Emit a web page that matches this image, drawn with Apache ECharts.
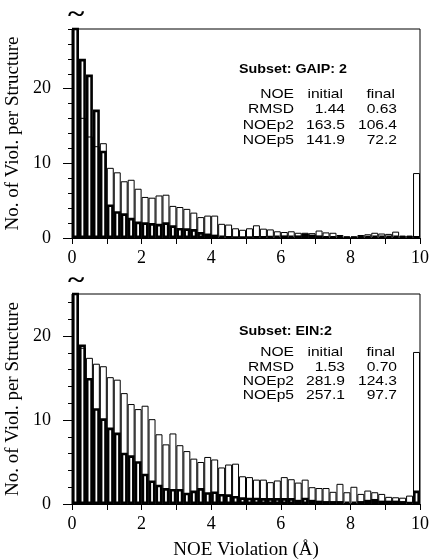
<!DOCTYPE html>
<html>
<head>
<meta charset="utf-8">
<script src="https://cdn.jsdelivr.net/npm/echarts@6.0.0/dist/echarts.min.js"></script>
</head>
<body style="margin:0">
<div id="container" style="width:430px;height:560px"></div>
<script>
// 0.2 A bins from 0 to 10
var bins = [];
for (var i = 0; i < 50; i++) bins.push((i * 0.2).toFixed(1));

// GAIP:2, initial (open bars) and final (thick bars); first bin is off scale
var gaipInitial = [40, 16.1, 13.6, 12.3, 12.7, 9.4, 8.8, 7.6, 7.8, 6.6,
    5.5, 5.4, 5.7, 5.8, 4.3, 4.15, 3.9, 3.4, 2.8, 3.0,
    3.0, 1.9, 1.8, 1.3, 1.1, 1.3, 1.7, 1.25, 1.15, 0.9,
    0.8, 0.9, 0.7, 0.7, 0.65, 1.0, 0.75, 0.7, 0.4, 0.2,
    0.2, 0.4, 0.5, 0.7, 0.6, 0.55, 0.85, 0.3, 0.3, 8.7];
var gaipFinal = [40, 24.0, 21.9, 17.2, 11.7, 4.5, 3.6, 3.3, 2.7, 2.2,
    2.1, 2.0, 1.9, 2.1, 1.7, 1.35, 1.3, 1.2, 0.8, 0.6,
    0.45, 0.3, 0.2, 0.15, 0.15, 0.15, 0.2, 0.2, 0.25, 0.3,
    0.35, 0.3, 0.35, 0.6, 0.45, 0.35, 0.2, 0.2, 0.2, 0.15,
    0.15, 0.2, 0.25, 0.3, 0.3, 0.3, 0.3, 0.25, 0.25, 0.2];

// EIN:2
var einInitial = [40, 18.6, 17.4, 16.7, 16.4, 15.1, 14.8, 13.2, 11.9, 11.3,
    11.7, 10.1, 8.3, 7.1, 8.4, 7.0, 6.3, 5.4, 5.0, 5.6,
    5.3, 4.35, 4.7, 4.8, 3.3, 3.2, 2.9, 2.9, 2.6, 2.8,
    3.2, 2.95, 2.55, 2.9, 2.0, 1.9, 1.9, 1.45, 2.4, 1.4,
    2.05, 1.2, 1.6, 1.4, 1.2, 0.85, 0.8, 0.75, 1.0, 18.1];
var einFinal = [40, 19.0, 15.0, 11.4, 10.2, 9.1, 8.5, 6.1, 5.8, 5.1,
    3.6, 2.8, 2.3, 1.9, 1.8, 1.8, 1.35, 1.6, 1.9, 1.4,
    1.5, 1.2, 1.15, 0.95, 0.8, 0.75, 0.75, 0.7, 0.7, 0.7,
    0.7, 0.7, 0.5, 0.75, 0.5, 0.4, 0.35, 0.35, 0.35, 0.3,
    0.3, 0.35, 0.5, 0.6, 0.4, 0.4, 0.4, 0.35, 0.2, 1.6];

var gaipTable = [['NOE', 'initial', 'final'], ['RMSD', '1.44', '0.63'],
    ['NOEp2', '163.5', '106.4'], ['NOEp5', '141.9', '72.2']];
var einTable = [['NOE', 'initial', 'final'], ['RMSD', '1.53', '0.70'],
    ['NOEp2', '281.9', '124.3'], ['NOEp5', '257.1', '97.7']];

var yTicksTop = [0, 2, 4, 6, 8, 10, 12, 14, 16, 18, 20, 22, 24, 26, 28];
var yTicksBottom = [0, 2, 4, 6, 8, 10, 12, 14, 16, 18, 20, 22, 24];
var yLabels = [0, 10, 20];

var serif = 'Liberation Serif';
var sans = 'Liberation Sans';

var grids = [
    { left: 72, right: 10, top: 29, height: 209 },
    { left: 72, right: 10, top: 294, height: 210 }
];

var xAxes = [], yAxes = [], series = [], graphic = [];

function addPanel(g, ymax, minorTicks, initial, final, last) {
    xAxes.push({
        gridIndex: g, type: 'category', data: bins, position: 'top', show: false
    });
    xAxes.push({
        gridIndex: g, type: 'value', min: 0, max: 10, interval: 1, position: 'bottom',
        axisLine: { lineStyle: { color: '#000', width: 1 } },
        axisTick: { length: 6, lineStyle: { color: '#000' } },
        axisLabel: {
            margin: 11, color: '#000', fontFamily: serif, fontSize: 18,
            formatter: function (v) { return v % 2 === 0 ? String(v) : ''; }
        },
        splitLine: { show: false },
        name: last ? 'NOE Violation (Å)' : '',
        nameLocation: 'middle', nameGap: 37,
        nameTextStyle: { color: '#000', fontFamily: serif, fontSize: 19 }
    });
    yAxes.push({
        gridIndex: g, type: 'value', min: 0, max: ymax, position: 'left',
        axisLine: { show: true, lineStyle: { color: '#000' } },
        axisTick: { show: true, length: 9, customValues: yLabels, lineStyle: { color: '#000' } },
        axisLabel: { customValues: yLabels, margin: 21, color: '#000', fontFamily: serif, fontSize: 18 },
        splitLine: { show: false },
        name: 'No. of Viol. per Structure', nameLocation: 'middle', nameGap: 43,
        nameTextStyle: { color: '#000', fontFamily: serif, fontSize: 19 }
    });
    yAxes.push({
        gridIndex: g, type: 'value', min: 0, max: ymax, position: 'left',
        axisLine: { show: false },
        axisTick: { show: true, length: 4, customValues: minorTicks, lineStyle: { color: '#000' } },
        axisLabel: { show: false },
        splitLine: { show: false }
    });
    series.push({
        type: 'bar', xAxisIndex: g * 2, yAxisIndex: g * 2, data: initial,
        barCategoryGap: '0%', barGap: '-100%', silent: true,
        itemStyle: { color: '#fff', borderColor: '#000', borderWidth: 1 }
    });
    series.push({
        type: 'bar', xAxisIndex: g * 2, yAxisIndex: g * 2, data: final,
        barCategoryGap: '0%', barGap: '-100%', silent: true,
        itemStyle: { color: 'rgba(0,0,0,0)', borderColor: '#000', borderWidth: 2.6 }
    });
}

addPanel(0, 28, yTicksTop, gaipInitial, gaipFinal, false);
addPanel(1, 25, yTicksBottom, einInitial, einFinal, true);

function addText(txt, x, y, font, align, sx) {
    graphic.push({
        type: 'text', x: x, y: y, scaleX: sx, silent: true,
        style: {
            text: txt, font: font, fill: '#000',
            align: align, textAlign: align, verticalAlign: 'middle', textVerticalAlign: 'middle'
        }
    });
}

function addTable(title, rows, titleY, rowYs) {
    addText(title, 239, titleY, 'bold 13px ' + sans, 'left', 1.1);
    var colX = [294, 345, 397];
    rows.forEach(function (row, r) {
        row.forEach(function (cell, c) {
            addText(cell, colX[c] - (r === 0 && c > 0 ? 2 : 0), rowYs[r], '13px ' + sans, 'right', 1.2);
        });
    });
}

addTable('Subset: GAIP: 2', gaipTable, 69, [94, 109.5, 125, 140.5]);
addTable('Subset: EIN:2', einTable, 331, [352, 367, 381, 395]);

// axis break marks above the first bin
addText('~', 76, 15, 'bold 26px ' + serif, 'center', 1.2);
addText('~', 76, 281, 'bold 26px ' + serif, 'center', 1.2);

var myChart = echarts.init(document.getElementById('container'));
var option = {
    animation: false,
    grid: grids.map(function (g) {
        return {
            left: g.left, right: g.right, top: g.top, height: g.height,
            show: true, borderColor: '#000', borderWidth: 1, backgroundColor: 'transparent',
            outerBoundsMode: 'none'
        };
    }),
    xAxis: xAxes,
    yAxis: yAxes,
    series: series,
    graphic: graphic
};
myChart.setOption(option);
</script>
</body>
</html>
